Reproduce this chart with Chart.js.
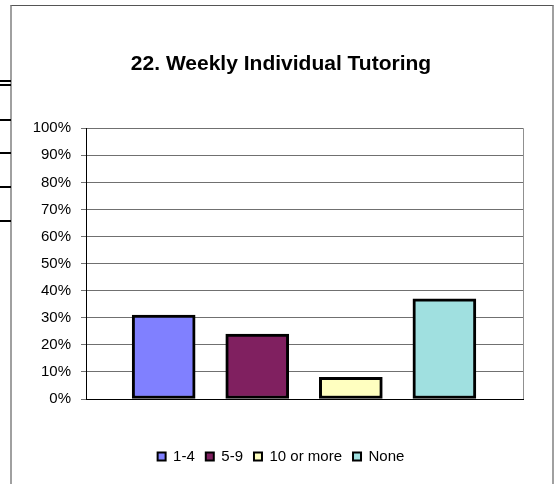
<!DOCTYPE html>
<html lang="en">
<head>
  <meta charset="UTF-8">
  <title>22. Weekly Individual Tutoring</title>
  <style>
    body { margin: 0; background: #fff; }
    .wrap { position: relative; width: 556px; height: 484px; overflow: hidden; }
    .frame { position: absolute; left: 10px; top: 5px; width: 540px; height: 500px;
      border-top: 1px solid #555; border-left: 2px solid #a0a0a0; border-right: 2px solid #a0a0a0; }
    .stub { position: absolute; left: 0; width: 11px; height: 2px; background: #000; }
    #tutoring { position: absolute; left: 0; top: 0; }
  </style>
</head>
<body>
  <div class="wrap">
    <div class="frame"></div>
    <div class="stub" style="top: 80px; height: 1.5px;"></div>
    <div class="stub" style="top: 84px; height: 1.5px;"></div>
    <div class="stub" style="top: 119px;"></div>
    <div class="stub" style="top: 152px;"></div>
    <div class="stub" style="top: 186px;"></div>
    <div class="stub" style="top: 220px;"></div>
    <canvas id="tutoring" width="556" height="484"></canvas>
  </div>
  <script src="https://cdn.jsdelivr.net/npm/chart.js"></script>
  <script>
    // values
    const categories = ['1-4', '5-9', '10 or more', 'None'];
    const percents = [31, 24, 8, 37];
    const yTickValues = [0, 10, 20, 30, 40, 50, 60, 70, 80, 90, 100];
    const barColors = ['#8080ff', '#802060', '#ffffc0', '#a0e0e0'];

    const font = 'Liberation Sans, Arial, sans-serif';

    // one dataset per category so the legend lists them like the original
    const datasets = categories.map(function (name, i) {
      return {
        label: name,
        data: [{ x: i + 1, y: percents[i] }],
        backgroundColor: barColors[i],
        borderColor: '#000',
        borderWidth: 3,
        borderSkipped: false,
        barThickness: 63,
        grouped: false
      };
    });

    const plotRightEdge = {
      id: 'plotRightEdge',
      beforeDatasetsDraw(chart) {
        const a = chart.chartArea;
        const ctx = chart.ctx;
        ctx.save();
        ctx.strokeStyle = '#909090';
        ctx.lineWidth = 1;
        ctx.beginPath();
        ctx.moveTo(a.right + 0.5, a.top);
        ctx.lineTo(a.right + 0.5, a.bottom);
        ctx.stroke();
        ctx.restore();
      }
    };

    new Chart(document.getElementById('tutoring'), {
      type: 'bar',
      data: { datasets: datasets },
      plugins: [plotRightEdge],
      options: {
        responsive: false,
        animation: false,
        layout: { padding: { left: 6, right: 0, top: 0, bottom: 10 } },
        scales: {
          x: {
            type: 'linear',
            offset: false,
            min: 0.17,
            max: 4.84,
            grid: { display: false },
            ticks: { display: false },
            border: { display: true, color: '#000', width: 1 },
            afterFit(scale) { scale.height = 39; }
          },
          y: {
            min: 0,
            max: 100,
            afterBuildTicks(scale) {
              scale.ticks = yTickValues.map(v => ({ value: v }));
            },
            ticks: {
              color: '#000',
              font: { family: font, size: 15 },
              padding: 10,
              callback: v => v + '%'
            },
            grid: { color: '#707070', tickColor: '#707070', tickLength: 5 },
            border: { color: '#000', width: 1 },
            afterFit(scale) { scale.width = 80; }
          },
          // empty spacer on the right so title and legend sit centred like the original
          yRight: {
            position: 'right',
            min: 0,
            max: 100,
            grid: { display: false },
            ticks: { display: false },
            border: { display: false },
            afterFit(scale) { scale.width = 33; }
          }
        },
        plugins: {
          title: {
            display: true,
            text: '22. Weekly Individual Tutoring',
            color: '#000',
            font: { family: font, size: 21, weight: 'bold' },
            padding: { top: 52, bottom: 51 }
          },
          legend: {
            position: 'bottom',
            labels: {
              color: '#000',
              font: { family: font, size: 15 },
              boxWidth: 8,
              boxHeight: 8,
              padding: 11,
              generateLabels(chart) {
                const items = Chart.defaults.plugins.legend.labels.generateLabels(chart);
                items.forEach(it => { it.lineWidth = 2; });
                return items;
              }
            }
          },
          tooltip: { enabled: false }
        }
      }
    });
  </script>
</body>
</html>
